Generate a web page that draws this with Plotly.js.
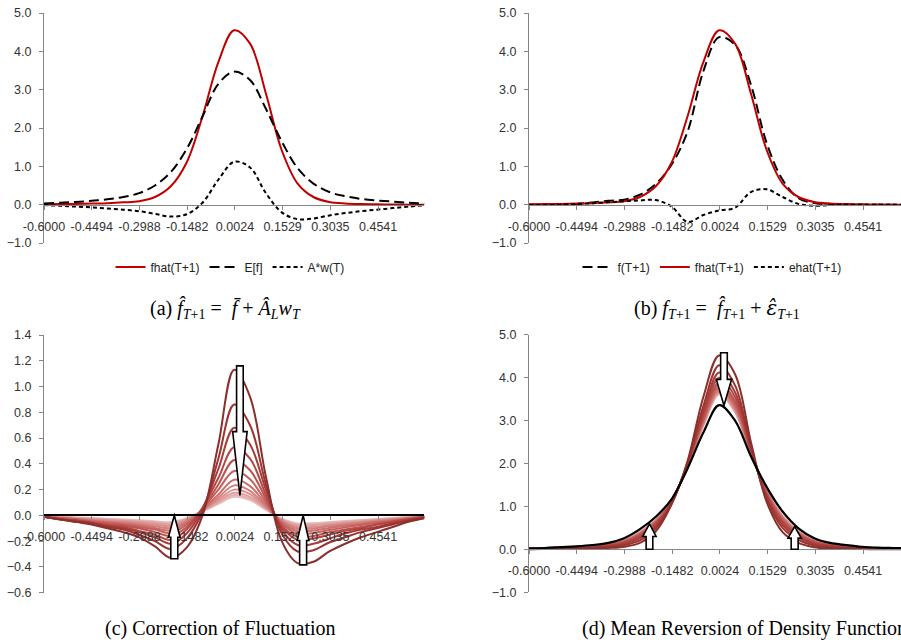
<!DOCTYPE html>
<html><head><meta charset="utf-8">
<script src="https://cdn.plot.ly/plotly-3.0.1.min.js"></script>
<style>html,body{margin:0;padding:0;background:#fff}#chart{width:901px;height:644px}</style>
</head><body><div id="chart"></div>
<script>
// ---------- data ----------
const xGrid = [-0.6,-0.55,-0.5,-0.45,-0.4,-0.35,-0.3,-0.25,-0.2,-0.15,-0.1,-0.05,0,0.05,0.1,0.15,0.2,0.25,0.3,0.35,0.4,0.45,0.5,0.55,0.6];
const xTickVals = [-0.6,-0.4494,-0.2988,-0.1482,0.0024,0.1529,0.3035,0.4541];
const xTickText = ["-0.6000","-0.4494","-0.2988","-0.1482","0.0024","0.1529","0.3035","0.4541"];

// panel (a) / (b)
const fhatNext = [0.01,0.015,0.02,0.03,0.04,0.06,0.09,0.2,0.48,1.1,2.3,3.72,4.55,4.2,2.9,1.42,0.55,0.2,0.07,0.03,0.015,0.01,0.005,0.0,0.0];
const meanF    = [0.03,0.05,0.07,0.1,0.14,0.2,0.3,0.5,0.85,1.45,2.3,3.15,3.47,3.25,2.5,1.65,0.95,0.55,0.33,0.22,0.15,0.11,0.08,0.05,0.03];
const aw       = [-0.01,-0.03,-0.05,-0.07,-0.1,-0.13,-0.17,-0.24,-0.31,-0.25,0.05,0.65,1.12,0.97,0.3,-0.2,-0.38,-0.36,-0.28,-0.22,-0.17,-0.13,-0.09,-0.05,-0.02];
const fNext    = [0.0,0.0,0.01,0.02,0.06,0.10,0.13,0.26,0.54,1.05,1.9,3.48,4.37,4.17,3.13,1.6,0.65,0.17,0.04,0.01,0.0,0.0,0.0,0.0,0.0];
const ehatNext = [-0.01,-0.01,0.0,0.02,0.04,0.06,0.09,0.11,0.12,-0.05,-0.45,-0.27,-0.15,-0.08,0.33,0.40,0.20,0.02,-0.03,-0.01,0.0,0.0,0.0,0.0,0.0];

// panel (c): successive corrections
const corr1  = [-0.01,-0.03,-0.05,-0.07,-0.10,-0.13,-0.17,-0.24,-0.33,-0.25,0.0,0.55,1.13,0.92,0.30,-0.20,-0.37,-0.36,-0.28,-0.22,-0.17,-0.13,-0.09,-0.05,-0.02];
const corr2  = [-0.01,-0.03,-0.05,-0.06,-0.09,-0.11,-0.15,-0.20,-0.26,-0.18,0.03,0.44,0.86,0.70,0.24,-0.14,-0.28,-0.27,-0.21,-0.17,-0.13,-0.10,-0.07,-0.04,-0.02];
const corr3  = [-0.01,-0.03,-0.04,-0.06,-0.08,-0.10,-0.13,-0.17,-0.22,-0.14,0.05,0.36,0.68,0.55,0.20,-0.11,-0.23,-0.22,-0.18,-0.14,-0.11,-0.09,-0.06,-0.04,-0.02];
const corr4  = [-0.01,-0.03,-0.04,-0.06,-0.08,-0.09,-0.12,-0.15,-0.19,-0.11,0.06,0.29,0.53,0.44,0.16,-0.09,-0.19,-0.18,-0.15,-0.12,-0.10,-0.07,-0.05,-0.03,-0.01];
const corr5  = [-0.01,-0.03,-0.04,-0.05,-0.07,-0.08,-0.10,-0.13,-0.16,-0.09,0.05,0.24,0.43,0.35,0.13,-0.08,-0.165,-0.16,-0.13,-0.11,-0.09,-0.07,-0.05,-0.03,-0.01];
const corr6  = [-0.01,-0.02,-0.03,-0.05,-0.06,-0.07,-0.09,-0.11,-0.137,-0.07,0.05,0.20,0.345,0.28,0.105,-0.064,-0.143,-0.136,-0.113,-0.093,-0.075,-0.058,-0.043,-0.026,-0.012];
const corr7  = [-0.010,-0.021,-0.031,-0.042,-0.053,-0.065,-0.079,-0.098,-0.117,-0.056,0.044,0.162,0.277,0.227,0.085,-0.054,-0.123,-0.117,-0.098,-0.081,-0.066,-0.051,-0.038,-0.023,-0.011];
const corr8  = [-0.009,-0.018,-0.028,-0.037,-0.047,-0.056,-0.068,-0.084,-0.099,-0.045,0.041,0.139,0.233,0.19,0.072,-0.045,-0.106,-0.101,-0.085,-0.071,-0.058,-0.045,-0.033,-0.021,-0.010];
const corr9  = [-0.008,-0.016,-0.024,-0.032,-0.040,-0.048,-0.058,-0.071,-0.083,-0.036,0.037,0.122,0.20,0.165,0.062,-0.039,-0.092,-0.088,-0.075,-0.062,-0.051,-0.040,-0.029,-0.018,-0.009];
const corr10 = [-0.007,-0.014,-0.021,-0.027,-0.034,-0.041,-0.050,-0.060,-0.070,-0.029,0.034,0.107,0.175,0.143,0.054,-0.033,-0.080,-0.076,-0.065,-0.055,-0.045,-0.035,-0.026,-0.016,-0.008];
const corr11 = [-0.006,-0.012,-0.018,-0.024,-0.030,-0.036,-0.043,-0.052,-0.060,-0.024,0.033,0.098,0.158,0.13,0.049,-0.029,-0.070,-0.067,-0.058,-0.048,-0.040,-0.031,-0.023,-0.014,-0.007];
const corr12 = [-0.005,-0.010,-0.016,-0.021,-0.026,-0.031,-0.037,-0.045,-0.052,-0.021,0.03,0.089,0.144,0.118,0.044,-0.026,-0.062,-0.060,-0.051,-0.043,-0.035,-0.028,-0.020,-0.013,-0.006];

// panel (d): successive forecasts and long-run density
const dens1  = [0.0,0.005,0.01,0.015,0.02,0.03,0.06,0.15,0.42,1.05,2.05,3.55,4.52,4.08,2.5,1.1,0.4,0.15,0.05,0.02,0.01,0.005,0.0,0.0,0.0];
const dens2  = [0.0,0.01,0.02,0.03,0.04,0.05,0.10,0.21,0.49,1.07,2.02,3.34,4.29,3.82,2.39,1.17,0.50,0.22,0.09,0.05,0.03,0.02,0.01,0.01,0.0];
const dens3  = [0.01,0.01,0.02,0.03,0.05,0.07,0.13,0.26,0.54,1.09,1.99,3.23,4.12,3.66,2.35,1.22,0.57,0.27,0.12,0.07,0.04,0.02,0.01,0.01,0.01];
const dens4  = [0.01,0.02,0.03,0.04,0.06,0.09,0.15,0.30,0.58,1.11,1.97,3.14,4.00,3.55,2.32,1.26,0.62,0.31,0.15,0.08,0.05,0.03,0.02,0.01,0.01];
const dens5  = [0.01,0.02,0.03,0.05,0.06,0.10,0.17,0.33,0.61,1.12,1.96,3.07,3.89,3.45,2.30,1.29,0.66,0.34,0.17,0.09,0.06,0.04,0.02,0.02,0.01];
const dens6  = [0.01,0.02,0.04,0.05,0.07,0.10,0.18,0.35,0.63,1.12,1.95,3.02,3.81,3.38,2.28,1.32,0.70,0.36,0.18,0.10,0.07,0.04,0.03,0.02,0.01];
const dens7  = [0.01,0.02,0.04,0.05,0.07,0.11,0.19,0.36,0.65,1.13,1.94,2.98,3.76,3.33,2.26,1.33,0.72,0.38,0.19,0.11,0.07,0.04,0.03,0.02,0.01];
const dens8  = [0.01,0.02,0.04,0.05,0.08,0.12,0.20,0.38,0.66,1.14,1.93,2.95,3.71,3.29,2.25,1.35,0.74,0.39,0.20,0.11,0.07,0.04,0.03,0.02,0.01];
const dens9  = [0.01,0.02,0.04,0.06,0.08,0.12,0.21,0.39,0.67,1.14,1.92,2.92,3.68,3.25,2.24,1.36,0.76,0.40,0.21,0.12,0.08,0.05,0.03,0.02,0.01];
const dens10 = [0.02,0.02,0.04,0.06,0.08,0.12,0.21,0.39,0.68,1.14,1.92,2.91,3.65,3.23,2.24,1.37,0.77,0.41,0.21,0.12,0.08,0.05,0.03,0.02,0.02];
const dens11 = [0.02,0.02,0.04,0.06,0.08,0.12,0.22,0.40,0.69,1.14,1.92,2.89,3.63,3.21,2.23,1.37,0.77,0.42,0.21,0.12,0.08,0.05,0.03,0.02,0.02];
const dens12 = [0.02,0.02,0.04,0.06,0.08,0.13,0.22,0.41,0.69,1.15,1.91,2.88,3.61,3.19,2.23,1.38,0.78,0.42,0.22,0.12,0.08,0.05,0.03,0.02,0.02];
const densMean = [0.02,0.03,0.05,0.07,0.1,0.15,0.26,0.47,0.76,1.17,1.88,2.72,3.36,3.0,2.17,1.45,0.88,0.49,0.26,0.15,0.1,0.06,0.04,0.03,0.02];

const corrSeries = [corr1,corr2,corr3,corr4,corr5,corr6,corr7,corr8,corr9,corr10,corr11,corr12];
const densSeries = [dens1,dens2,dens3,dens4,dens5,dens6,dens7,dens8,dens9,dens10,dens11,dens12];
const shadeColors = ["#8c2f2c","#9a3532","#a63d3a","#b14643","#bb524f","#c3605d","#cb6f6c","#d27f7c","#d98f8d","#df9f9d","#e5b0ae","#eac0bf"];

// ---------- styling ----------
const FONT = "Liberation Sans, Arial, sans-serif";
const SERIF = "Liberation Serif, Times New Roman, serif";
const RED = "#c00000";
const AXC = "#868686";
const W = 901, H = 644;
const px = (a) => a / W;
const py = (b) => 1 - b / H;

function line(x, y, xa, ya, color, dash, name, legend, width) {
  return {type:'scatter', mode:'lines', x:x, y:y, xaxis:xa, yaxis:ya, name:name,
    legend:legend, showlegend: !!legend, hoverinfo:'skip',
    line:{color:color, width:width||2, dash:dash||'solid', shape:'spline', smoothing:1}};
}

const traces = [];
// (a)
traces.push(line(xGrid, fhatNext, 'x', 'y', RED, 'solid', 'fhat(T+1)', 'legend'));
traces.push(line(xGrid, meanF, 'x', 'y', '#000', '10px,5px', 'E[f]', 'legend'));
traces.push(line(xGrid, aw, 'x', 'y', '#000', '4px,3px', 'A*w(T)', 'legend'));
// (b)
traces.push(line(xGrid, fNext, 'x2', 'y2', '#000', '10px,5px', 'f(T+1)', 'legend2'));
traces.push(line(xGrid, fhatNext, 'x2', 'y2', RED, 'solid', 'fhat(T+1)', 'legend2'));
traces.push(line(xGrid, ehatNext, 'x2', 'y2', '#000', '4px,3px', 'ehat(T+1)', 'legend2'));
// (c) light ones first so darker lie on top
for (let k = corrSeries.length - 1; k >= 0; k--) {
  traces.push(line(xGrid, corrSeries[k], 'x3', 'y3', shadeColors[k], 'solid', 'c' + (k+1), null, 2));
}
// (d)
for (let k = densSeries.length - 1; k >= 0; k--) {
  traces.push(line(xGrid, densSeries[k], 'x4', 'y4', shadeColors[k], 'solid', 'd' + (k+1), null, 2));
}
traces.push(line(xGrid, densMean, 'x4', 'y4', '#000', 'solid', 'mean', null, 2.2));

// ---------- axes ----------
function xAxis(domPx, range, yDom, yRange, lineColor, lineWidth) {
  const frac = (0 - yRange[0]) / (yRange[1] - yRange[0]);
  return {domain:[px(domPx[0]), px(domPx[1])], range:range, anchor:'free',
    position: yDom[0] + frac * (yDom[1] - yDom[0]),
    tickmode:'array', tickvals:xTickVals, ticktext:xTickText,
    showgrid:false, zeroline:false, showline:true, linecolor:lineColor||AXC, linewidth:lineWidth||1,
    ticks:'outside', ticklen:4, tickcolor:AXC, tickwidth:1, ticklabelstandoff:6,
    tickfont:{family:FONT, size:12.5, color:'#333'}, fixedrange:true, layer:'above traces'};
}
function yAxis(xa, dom, range, dtick) {
  return {anchor:xa, domain:dom, range:range, tick0:range[0], dtick:dtick, tickformat:'.1f',
    showgrid:false, zeroline:false, showline:true, linecolor:AXC, linewidth:1,
    ticks:'outside', ticklen:4, tickcolor:AXC, ticklabelstandoff:5,
    tickfont:{family:FONT, size:12.5, color:'#333'}, fixedrange:true};
}

const yDomA = [py(243), py(13)];
const yDomC = [py(592.7), py(335)];
const yDomD = [py(592.2), py(334.8)];
const rightEnd = -0.6 + (901 - 529) / 317;

const capFont = {family:SERIF, size:20, color:'#000'};
const S = '\u00a0';
const hatEps = '<span style="font-family:DejaVu Serif">\u03b5\u0302</span>';

const layout = {
  width:W, height:H, margin:{l:0, r:0, t:0, b:0},
  paper_bgcolor:'#fff', plot_bgcolor:'rgba(0,0,0,0)',
  xaxis:  xAxis([44, 424.4], [-0.6, 0.6], yDomA, [-1, 5]),
  yaxis:  yAxis('x', yDomA, [-1, 5], 1),
  xaxis2: xAxis([529, 901], [-0.6, rightEnd], yDomA, [-1, 5]),
  yaxis2: yAxis('x2', yDomA, [-1, 5], 1),
  xaxis3: xAxis([44, 424.4], [-0.6, 0.6], yDomC, [-0.6, 1.4], '#000', 2),
  yaxis3: yAxis('x3', yDomC, [-0.6, 1.4], 0.2),
  xaxis4: xAxis([529, 901], [-0.6, rightEnd], yDomD, [-1, 5]),
  yaxis4: yAxis('x4', yDomD, [-1, 5], 1),
  legend:  {orientation:'h', x:px(230), xanchor:'center', y:py(267), yanchor:'middle',
            font:{family:FONT, size:12, color:'#222'}, bgcolor:'rgba(0,0,0,0)', itemwidth:30, tracegroupgap:0},
  legend2: {orientation:'h', x:px(712), xanchor:'center', y:py(267), yanchor:'middle',
            font:{family:FONT, size:12, color:'#222'}, bgcolor:'rgba(0,0,0,0)', itemwidth:30, tracegroupgap:0},
  showlegend:true,
  annotations: [
    {text:'(a) <i>f\u0302</i><sub><i>T</i>+1</sub>' + S + '=' + S + S + '<i>f\u0304</i>' + S + '+' + S + '<i>A\u0302</i><sub><i>L</i></sub><i>w</i><sub><i>T</i></sub>',
     x:px(225), y:py(309), xref:'paper', yref:'paper', showarrow:false, xanchor:'center', yanchor:'middle', font:capFont},
    {text:'(b) <i>f</i><sub><i>T</i>+1</sub>' + S + '=' + S + S + '<i>f\u0302</i><sub><i>T</i>+1</sub>' + S + '+' + S + '<i>' + hatEps + '</i><sub><i>T</i>+1</sub>',
     x:px(717), y:py(309), xref:'paper', yref:'paper', showarrow:false, xanchor:'center', yanchor:'middle', font:capFont},
    {text:'(c) Correction of Fluctuation',
     x:px(220), y:py(628), xref:'paper', yref:'paper', showarrow:false, xanchor:'center', yanchor:'middle', font:capFont},
    {text:'(d) Mean Reversion of Density Function',
     x:px(580), y:py(628), xref:'paper', yref:'paper', showarrow:false, xanchor:'left', yanchor:'middle', font:capFont}
  ],
  shapes: []
};

// block arrows (annotation shapes in data coordinates)
function blockArrow(xa, ya, cx, yStart, yHead, yTip, w, hw) {
  const p = (x, y) => x.toFixed(4) + ',' + y.toFixed(4);
  const path = 'M' + p(cx - w, yStart) + ' L' + p(cx + w, yStart) + ' L' + p(cx + w, yHead) +
    ' L' + p(cx + hw, yHead) + ' L' + p(cx, yTip) + ' L' + p(cx - hw, yHead) + ' L' + p(cx - w, yHead) + ' Z';
  return {type:'path', xref:xa, yref:ya, path:path, fillcolor:'#fff', line:{color:'#000', width:1.6}, layer:'above'};
}
layout.shapes.push(blockArrow('x3','y3', 0.018, 1.16, 0.65, 0.155, 0.0105, 0.0228));
layout.shapes.push(blockArrow('x3','y3', -0.189, -0.337, -0.17, 0.0, 0.011, 0.0184));
layout.shapes.push(blockArrow('x3','y3', 0.2174, -0.384, -0.195, 0.0, 0.011, 0.0184));
layout.shapes.push(blockArrow('x4','y4', 0.015, 4.58, 3.96, 3.35, 0.0105, 0.024));
layout.shapes.push(blockArrow('x4','y4', -0.22, 0.0, 0.30, 0.59, 0.0105, 0.021));
layout.shapes.push(blockArrow('x4','y4', 0.238, 0.0, 0.26, 0.53, 0.011, 0.021));

Plotly.newPlot('chart', traces, layout, {staticPlot:true, displayModeBar:false});
</script>
</body></html>
